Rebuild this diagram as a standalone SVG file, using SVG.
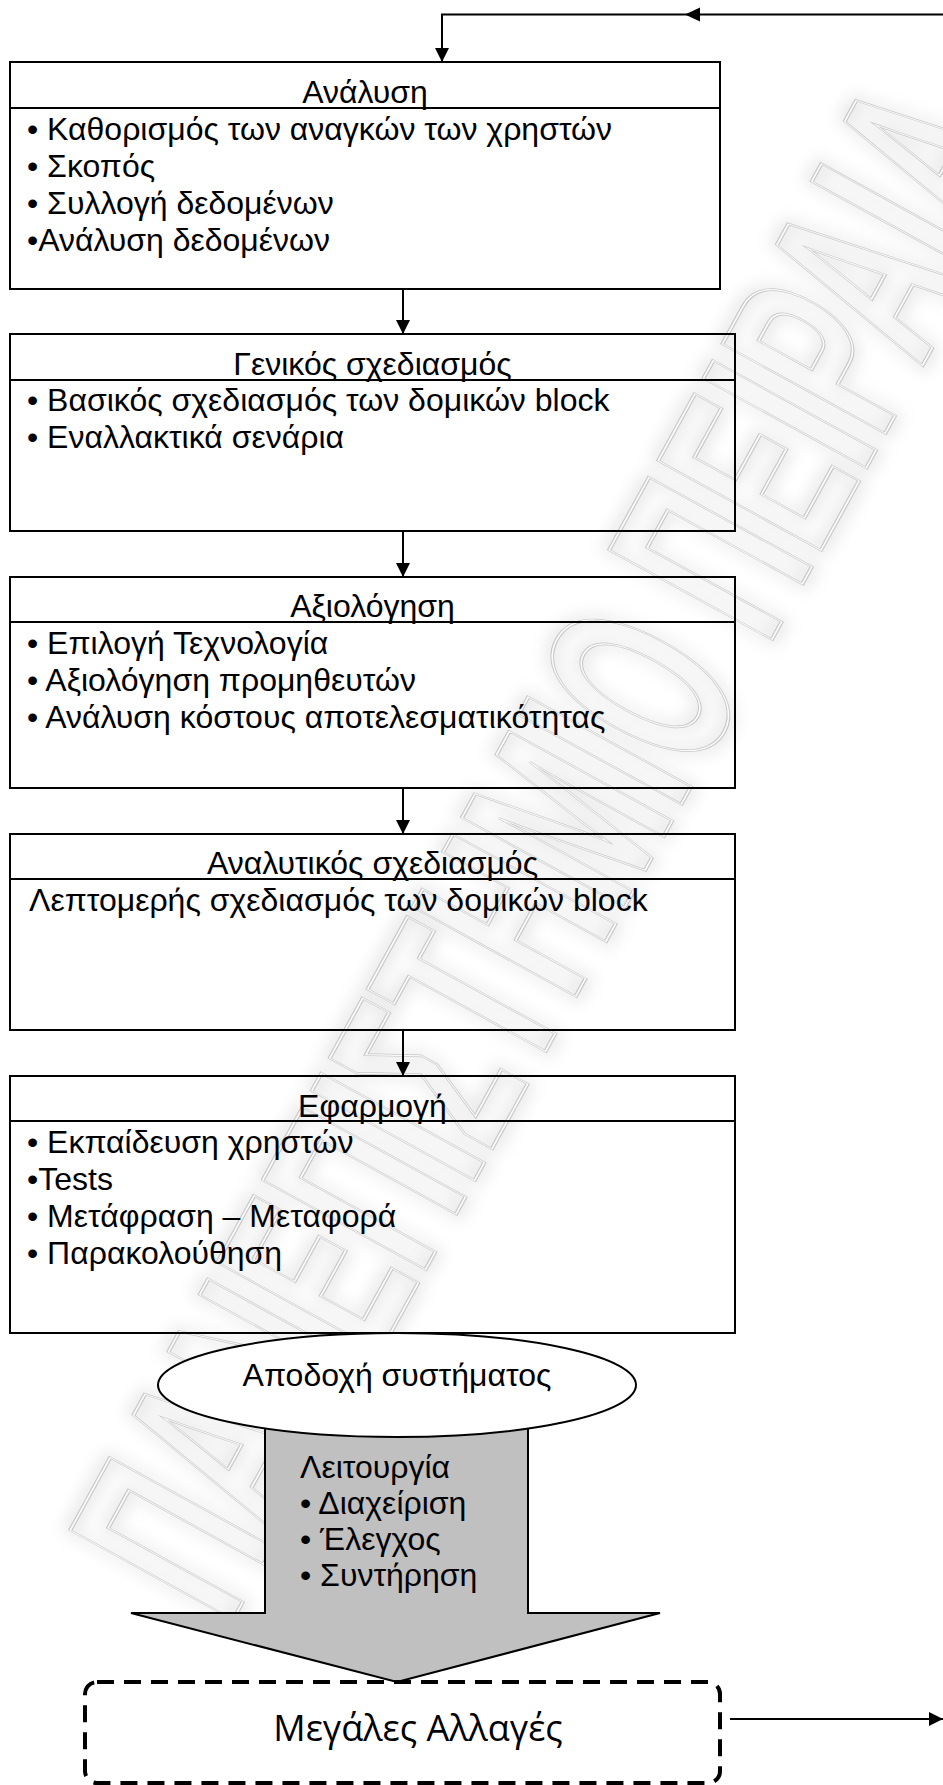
<svg xmlns="http://www.w3.org/2000/svg" width="943" height="1785" viewBox="0 0 943 1785">
<defs>
<style>
.box{fill:none;stroke:#000;stroke-width:2}
.t{font-family:"Liberation Sans",Arial,sans-serif;font-size:32px;fill:#000}
.c{text-anchor:middle}
.ln{stroke:#000;stroke-width:2;fill:none}
.wm{font-family:"Liberation Sans",Arial,sans-serif;font-weight:bold;font-size:270px;fill:none}
</style>
<marker id="ah" markerWidth="14" markerHeight="14" refX="14" refY="7" orient="auto" markerUnits="userSpaceOnUse"><path d="M0,0 L14,7 L0,14 Z" fill="#000"/></marker>
<filter id="blur" x="-10%" y="-10%" width="120%" height="120%"><feGaussianBlur stdDeviation="8"/></filter>
</defs>
<rect x="0" y="0" width="943" height="1785" fill="#fff"/>
<g id="watermark" transform="translate(548,845) rotate(-61.2)">
<text class="wm" x="0" y="0" dy="0.36em" text-anchor="middle" textLength="1680" lengthAdjust="spacingAndGlyphs" stroke="#e6e6e6" stroke-width="14" filter="url(#blur)">ΠΑΝΕΠΙΣΤΗΜΙΟ ΠΕΙΡΑΙΑ</text>
<text class="wm" x="0" y="0" dy="0.36em" text-anchor="middle" textLength="1680" lengthAdjust="spacingAndGlyphs" stroke="#c6c6c6" stroke-width="4">ΠΑΝΕΠΙΣΤΗΜΙΟ ΠΕΙΡΑΙΑ</text>
<text class="wm" x="0" y="0" dy="0.36em" text-anchor="middle" textLength="1680" lengthAdjust="spacingAndGlyphs" stroke="#fafafa" stroke-width="1.8">ΠΑΝΕΠΙΣΤΗΜΙΟ ΠΕΙΡΑΙΑ</text>
</g>
<g id="connectors">
<path class="ln" d="M943,14.5 H442 V62" marker-end="url(#ah)"/>
<path d="M685,14.5 L700,7.5 L700,21.5 Z" fill="#000"/>
<path class="ln" d="M403,289 V334" marker-end="url(#ah)"/>
<path class="ln" d="M403,531 V577" marker-end="url(#ah)"/>
<path class="ln" d="M403,788 V834" marker-end="url(#ah)"/>
<path class="ln" d="M403,1030 V1076" marker-end="url(#ah)"/>
<path class="ln" d="M730,1719 H943" marker-end="url(#ah)"/>
</g>
<g id="analysis">
<rect class="box" x="10" y="62" width="710" height="227"/>
<line class="ln" x1="10" y1="108" x2="720" y2="108"/>
<text class="t c" x="365" y="103">Ανάλυση</text>
<text class="t" x="27" y="140">• Καθορισμός των αναγκών των χρηστών</text>
<text class="t" x="27" y="177">• Σκοπός</text>
<text class="t" x="27" y="214">• Συλλογή δεδομένων</text>
<text class="t" x="27" y="251">•Ανάλυση δεδομένων</text>
</g>
<g id="general-design">
<rect class="box" x="10" y="334" width="725" height="197"/>
<line class="ln" x1="10" y1="380" x2="735" y2="380"/>
<text class="t c" x="372.5" y="375">Γενικός σχεδιασμός</text>
<text class="t" x="27" y="411">• Βασικός σχεδιασμός των δομικών block</text>
<text class="t" x="27" y="448">• Εναλλακτικά σενάρια</text>
</g>
<g id="evaluation">
<rect class="box" x="10" y="577" width="725" height="211"/>
<line class="ln" x1="10" y1="622" x2="735" y2="622"/>
<text class="t c" x="372.5" y="617">Αξιολόγηση</text>
<text class="t" x="27" y="654">• Επιλογή Τεχνολογία</text>
<text class="t" x="27" y="691">• Αξιολόγηση προμηθευτών</text>
<text class="t" x="27" y="728">• Ανάλυση κόστους αποτελεσματικότητας</text>
</g>
<g id="detailed-design">
<rect class="box" x="10" y="834" width="725" height="196"/>
<line class="ln" x1="10" y1="879" x2="735" y2="879"/>
<text class="t c" x="372.5" y="874">Αναλυτικός σχεδιασμός</text>
<text class="t" x="29" y="911">Λεπτομερής σχεδιασμός των δομικών block</text>
</g>
<g id="implementation">
<rect class="box" x="10" y="1076" width="725" height="257"/>
<line class="ln" x1="10" y1="1121" x2="735" y2="1121"/>
<text class="t c" x="372.5" y="1117">Εφαρμογή</text>
<text class="t" x="27" y="1153">• Εκπαίδευση χρηστών</text>
<text class="t" x="27" y="1190">•Tests</text>
<text class="t" x="27" y="1227">• Μετάφραση – Μεταφορά</text>
<text class="t" x="27" y="1264">• Παρακολούθηση</text>
</g>
<g id="operation">
<path d="M265,1420 L528,1420 L528,1613 L660,1613 L397,1682 L131,1613 L265,1613 Z" fill="#c0c0c0" stroke="#000" stroke-width="2"/>
<text class="t" x="300" y="1478">Λειτουργία</text>
<text class="t" x="300" y="1514">• Διαχείριση</text>
<text class="t" x="300" y="1550">• Έλεγχος</text>
<text class="t" x="300" y="1586">• Συντήρηση</text>
</g>
<g id="acceptance">
<ellipse cx="397" cy="1385" rx="239" ry="52" fill="#fff" stroke="#000" stroke-width="2"/>
<text class="t c" x="397" y="1386">Αποδοχή συστήματος</text>
</g>
<g id="major-changes">
<rect x="85" y="1682" width="635" height="101" rx="12" fill="none" stroke="#000" stroke-width="4" stroke-dasharray="17 10"/>
<text x="418" y="1741" text-anchor="middle" font-family="'Open Sans','Liberation Sans',sans-serif" font-size="36" fill="#000">Μεγάλες Αλλαγές</text>
</g>
</svg>
